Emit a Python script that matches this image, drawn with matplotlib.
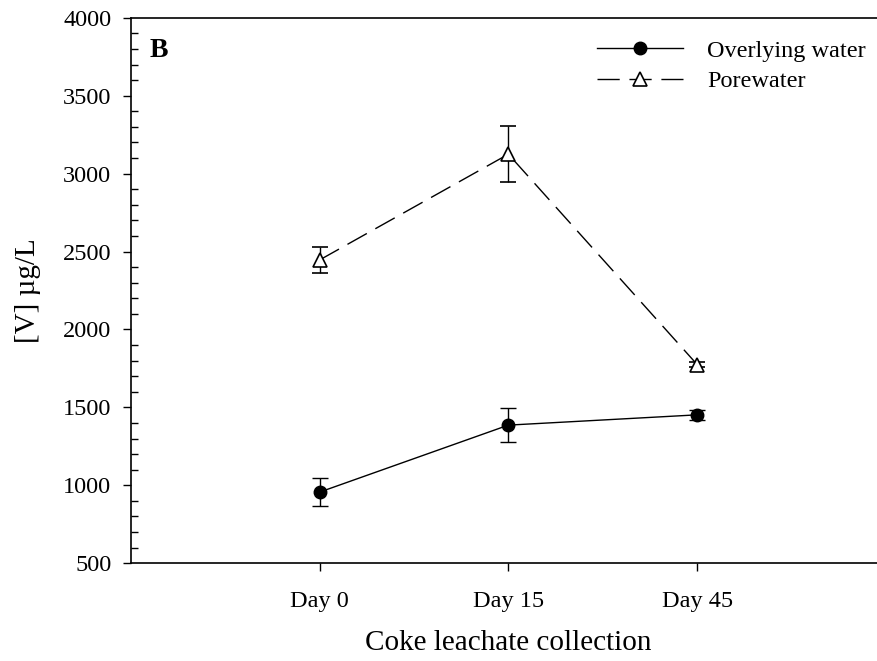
import matplotlib
matplotlib.use("Agg")
import matplotlib.pyplot as plt
from matplotlib.lines import Line2D
from matplotlib.ticker import MultipleLocator

plt.rcParams['font.family'] = ['Liberation Serif', 'DejaVu Serif']

days = ["Day 0", "Day 15", "Day 45"]
xpos = [1, 2, 3]

overlying = [956, 1386, 1452]
overlying_err = [92, 109, 33]
porewater = [2446, 3125, 1775]
porewater_err = [85, 180, 18]

fig = plt.figure(figsize=(8.78, 6.61), dpi=100)
ax = fig.add_axes([0.149, 0.148, 0.86, 0.825])

ax.errorbar(xpos, overlying, yerr=overlying_err, color='black', marker='o',
            markersize=9, linewidth=1.0, capsize=5.5, elinewidth=1.0,
            capthick=1.0)
ax.errorbar(xpos, porewater, yerr=porewater_err, color='black', marker='^',
            markersize=10, markerfacecolor='white', markeredgewidth=1.2,
            linewidth=1.0, dashes=(16, 7), capsize=5.5, elinewidth=1.0,
            capthick=1.0)

ax.set_xlim(0, 4)
ax.set_ylim(500, 4000)
ax.set_xticks(xpos)
ax.set_xticklabels(days)
ax.yaxis.set_major_locator(MultipleLocator(500))
ax.yaxis.set_minor_locator(MultipleLocator(100))

ax.tick_params(axis='both', which='major', direction='out', length=6, width=1,
               labelsize=17.5, pad=8)
ax.tick_params(axis='y', which='minor', direction='in', length=5, width=1)
ax.tick_params(axis='x', which='major', pad=14)

for s in ax.spines.values():
    s.set_linewidth(1.2)

ax.set_xlabel('Coke leachate collection', fontsize=21, labelpad=13)
ax.set_ylabel('[V] µg/L', fontsize=21, labelpad=16)

ax.text(0.1, 3790, 'B', fontsize=20, fontweight='bold', va='center')

handles = [
    Line2D([], [], color='black', marker='o', markersize=9, linewidth=1.0),
    Line2D([], [], color='black', marker='^', markersize=10,
           markerfacecolor='white', markeredgewidth=1.2, linewidth=1.0,
           dashes=(16, 7)),
]
ax.legend(handles, ['Overlying water', 'Porewater'], loc='upper left',
          bbox_to_anchor=(0.589, 1.0), frameon=False, fontsize=17.5,
          handlelength=3.5, handletextpad=1.0, labelspacing=0.35)

fig.savefig('out.png', dpi=100)
